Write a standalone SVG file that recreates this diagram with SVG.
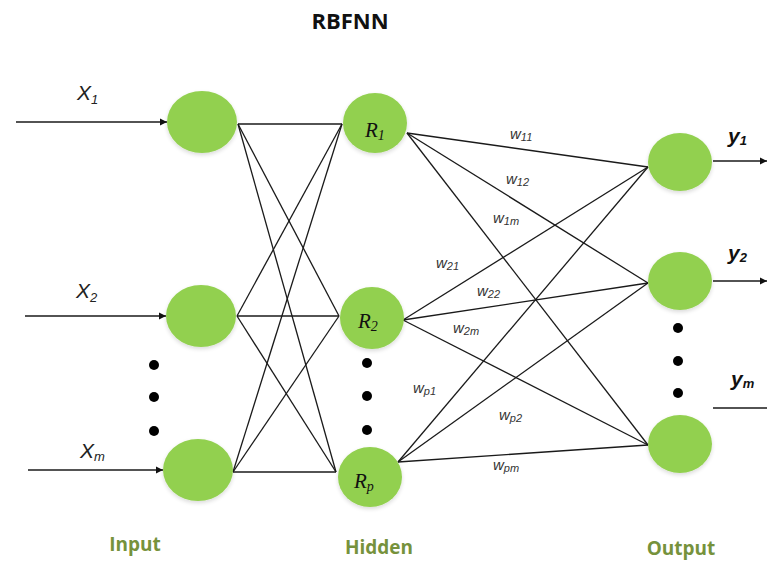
<svg xmlns="http://www.w3.org/2000/svg" width="767" height="562" viewBox="0 0 767 562">
<defs>
<marker id="arr" markerWidth="8" markerHeight="8" refX="7" refY="4" orient="auto" markerUnits="userSpaceOnUse">
<path d="M0,0.5 L7,4 L0,7.5 Z" fill="#111"/>
</marker>
<filter id="sh" x="-20%" y="-20%" width="140%" height="150%">
<feGaussianBlur in="SourceAlpha" stdDeviation="2"/>
<feOffset dy="2"/>
<feComponentTransfer><feFuncA type="linear" slope="0.15"/></feComponentTransfer>
<feMerge><feMergeNode/><feMergeNode in="SourceGraphic"/></feMerge>
</filter>
</defs>
<style>
.node{fill:#92D050;filter:url(#sh)}
.ln{stroke:#1a1a1a;stroke-width:1.3;fill:none}
.dot{fill:#000}
.xl{font-family:"Liberation Sans",Arial,sans-serif;font-style:italic;fill:#222;font-size:21px}
.rl{font-family:"Liberation Serif","Times New Roman",serif;font-style:italic;fill:#111;font-size:21px}
.yl{font-family:"Liberation Sans",Arial,sans-serif;font-style:italic;font-weight:bold;fill:#111;font-size:21px}
.wl{font-family:"Liberation Sans",Arial,sans-serif;font-style:italic;fill:#333;font-size:15px}
.sub{font-size:11px}
.rs{font-size:14px}
.lay{font-family:"Open Sans","Liberation Sans",sans-serif;font-weight:bold;fill:#76923C;font-size:19px}
.title{font-family:"Open Sans","Liberation Sans",sans-serif;font-weight:bold;fill:#111;font-size:22px}
</style>
<rect width="767" height="562" fill="#fff"/>
<text class="title" x="350" y="29" text-anchor="middle">RBFNN</text>

<g id="connectors">
<line class="ln" x1="16" y1="122" x2="167" y2="122" marker-end="url(#arr)"/>
<line class="ln" x1="25" y1="316" x2="166" y2="316" marker-end="url(#arr)"/>
<line class="ln" x1="28" y1="470" x2="163" y2="470" marker-end="url(#arr)"/>

<line class="ln" x1="238" y1="124" x2="342" y2="124"/>
<line class="ln" x1="238" y1="124" x2="339" y2="316"/>
<line class="ln" x1="238" y1="124" x2="336" y2="472"/>
<line class="ln" x1="237" y1="316" x2="342" y2="124"/>
<line class="ln" x1="237" y1="316" x2="339" y2="316"/>
<line class="ln" x1="237" y1="316" x2="336" y2="472"/>
<line class="ln" x1="233" y1="472" x2="342" y2="124"/>
<line class="ln" x1="233" y1="472" x2="339" y2="316"/>
<line class="ln" x1="233" y1="472" x2="336" y2="472"/>

<line class="ln" x1="407" y1="133" x2="648" y2="167"/>
<line class="ln" x1="407" y1="133" x2="648" y2="283"/>
<line class="ln" x1="407" y1="133" x2="648" y2="445"/>
<line class="ln" x1="403" y1="320" x2="648" y2="167"/>
<line class="ln" x1="403" y1="320" x2="648" y2="283"/>
<line class="ln" x1="403" y1="320" x2="648" y2="445"/>
<line class="ln" x1="398" y1="462" x2="648" y2="167"/>
<line class="ln" x1="398" y1="462" x2="648" y2="283"/>
<line class="ln" x1="398" y1="462" x2="648" y2="445"/>

<line class="ln" x1="713" y1="161" x2="767" y2="161" marker-end="url(#arr)"/>
<line class="ln" x1="713" y1="281" x2="767" y2="281" marker-end="url(#arr)"/>
<line class="ln" x1="713" y1="408" x2="767" y2="408"/>
</g>

<g id="input1"><ellipse class="node" cx="202" cy="122" rx="35" ry="31"/></g>
<g id="input2"><ellipse class="node" cx="201" cy="316" rx="35" ry="31"/></g>
<g id="inputm"><ellipse class="node" cx="198" cy="470" rx="35" ry="31"/></g>

<g id="hidden1"><ellipse class="node" cx="375" cy="123" rx="32" ry="30"/>
<text class="rl" x="365" y="137">R<tspan class="rs" dy="3">1</tspan></text></g>
<g id="hidden2"><ellipse class="node" cx="372" cy="318" rx="32" ry="31"/>
<text class="rl" x="358" y="328">R<tspan class="rs" dy="3">2</tspan></text></g>
<g id="hiddenp"><ellipse class="node" cx="370" cy="477" rx="32" ry="30"/>
<text class="rl" x="354" y="488">R<tspan class="rs" dy="3">p</tspan></text></g>

<g id="output1"><ellipse class="node" cx="680" cy="162" rx="32" ry="29"/></g>
<g id="output2"><ellipse class="node" cx="680" cy="281" rx="32" ry="29"/></g>
<g id="outputm"><ellipse class="node" cx="680" cy="444" rx="32" ry="29"/></g>

<g id="dots">
<circle class="dot" cx="154" cy="365" r="5"/>
<circle class="dot" cx="154" cy="397" r="5"/>
<circle class="dot" cx="154" cy="431" r="5"/>
<circle class="dot" cx="367" cy="363" r="5"/>
<circle class="dot" cx="367" cy="396" r="5"/>
<circle class="dot" cx="367" cy="430" r="5"/>
<circle class="dot" cx="678" cy="328" r="5"/>
<circle class="dot" cx="678" cy="361" r="5"/>
<circle class="dot" cx="678" cy="393" r="5"/>
</g>

<g id="labels">
<text class="xl" x="77" y="100">X<tspan font-size="13" dy="4">1</tspan></text>
<text class="xl" x="76" y="298">X<tspan font-size="13" dy="4">2</tspan></text>
<text class="xl" x="80" y="458">X<tspan font-size="13" dy="3">m</tspan></text>

<text class="yl" x="728" y="143">y<tspan font-size="13" dy="2">1</tspan></text>
<text class="yl" x="728" y="260">y<tspan font-size="13" dy="2">2</tspan></text>
<text class="yl" x="731" y="386">y<tspan font-size="13" dy="2">m</tspan></text>

<text class="wl" x="510" y="139">w<tspan class="sub" dy="2">11</tspan></text>
<text class="wl" x="506" y="184">w<tspan class="sub" dy="2">12</tspan></text>
<text class="wl" x="493" y="223">w<tspan class="sub" dy="2">1m</tspan></text>
<text class="wl" x="436" y="268">w<tspan class="sub" dy="2">21</tspan></text>
<text class="wl" x="477" y="296">w<tspan class="sub" dy="2">22</tspan></text>
<text class="wl" x="453" y="333">w<tspan class="sub" dy="2">2m</tspan></text>
<text class="wl" x="413" y="393">w<tspan class="sub" dy="2">p1</tspan></text>
<text class="wl" x="499" y="420">w<tspan class="sub" dy="2">p2</tspan></text>
<text class="wl" x="493" y="470">w<tspan class="sub" dy="2">pm</tspan></text>

<text class="lay" x="135" y="551" text-anchor="middle">Input</text>
<text class="lay" x="379" y="554" text-anchor="middle">Hidden</text>
<text class="lay" x="681" y="555" text-anchor="middle">Output</text>
</g>
</svg>
